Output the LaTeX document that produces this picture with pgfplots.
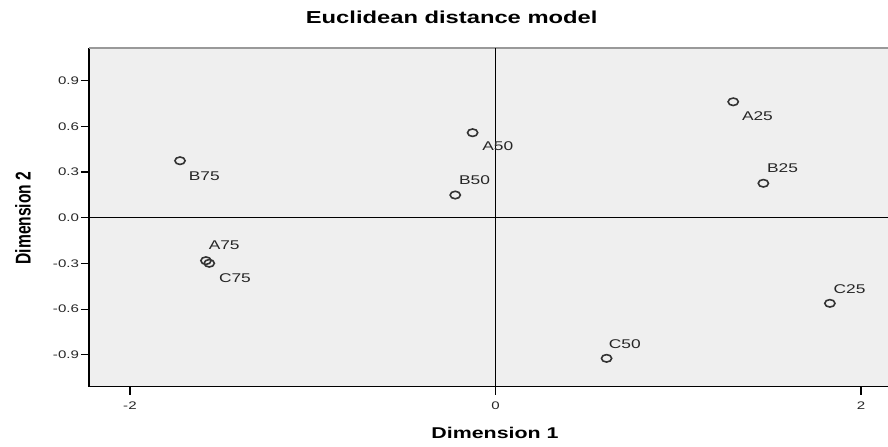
\documentclass[border=0pt]{standalone}
\usepackage{graphicx}
\usepackage{pgfplots}
\pgfplotsset{compat=1.18}
\usepackage{pgfplotstable}
\usepackage{fontspec}
\setmainfont{Liberation Sans}

% the chart is stretched sideways, so text is widened to match
\newcommand{\sx}[1]{\scalebox{1.37}[1]{#1}}

\definecolor{plotbg}{HTML}{EFEFEF}
\definecolor{markc}{HTML}{333333}

% x y name; dx dy = label offset in px
\pgfplotstableread{
x      y      name dx   dy
-1.726  0.374 B75  8   -15
-1.584 -0.282 A75  2    15
-1.566 -0.299 C75  9   -14.5
-0.125  0.558 A50  9   -13.3
-0.220  0.149 B50  3    15
 1.301  0.761 A25  8   -14.3
 1.466  0.226 B25  3    15.3
 0.608 -0.923 C50  1.5  14
 1.830 -0.562 C25  3    14
}\points

\begin{document}
\begin{tikzpicture}
\path[use as bounding box] (-66.75pt,-44.5pt) rectangle (599.25pt,290pt);
\begin{axis}[
  scale only axis,
  width=599.25pt, height=254pt,
  xmin=-2.224, xmax=2.148,
  ymin=-1.109, ymax=1.114,
  axis x line*=bottom, axis y line*=left,
  axis line style={-, line width=1pt, black},
  axis background/.style={fill=plotbg},
  xtick={-2,0,2},
  ytick={-0.9,-0.6,-0.3,0,0.3,0.6,0.9},
  tick align=outside,
  major tick length=6pt,
  tick style={line width=0.9pt, black},
  /pgf/number format/assume math mode=true,
  xticklabel={\sx{\pgfmathprintnumber{\tick}}},
  yticklabel={\sx{\pgfmathprintnumber[fixed,zerofill,precision=1]{\tick}}},
  ticklabel style={font=\fontsize{8.25}{10}\selectfont, text=black!85},
  xticklabel style={yshift=-2pt},
  yticklabel style={xshift=2pt},
  clip=false,
]
\draw[black!40, line width=1pt] (rel axis cs:0,1) -- (rel axis cs:1,1);
\draw[black, line width=0.9pt] (axis cs:0,-1.109) -- (axis cs:0,1.114);
\draw[black, line width=0.9pt] (axis cs:-2.224,0) -- (axis cs:2.148,0);
\addplot[
  only marks,
  mark=o,
  mark size=2.8pt,
  mark options={xscale=1.37, line width=1.2pt, draw=markc},
  point meta=explicit symbolic,
  visualization depends on={\thisrow{dx} \as \dx},
  visualization depends on={\thisrow{dy} \as \dy},
  nodes near coords={\sx{\pgfplotspointmeta}},
  every node near coord/.append style={
    anchor=west, inner sep=0pt,
    xshift=0.75*\dx pt, yshift=0.75*\dy pt,
    font=\fontsize{9.5}{11}\selectfont, text=black!85},
] table[x=x, y=y, meta=name] {\points};
\end{axis}
\node[font=\bfseries\fontsize{13}{15}\selectfont] at (272pt,276.9pt) {\sx{Euclidean distance model}};
\node[font=\bfseries\fontsize{11.7}{14}\selectfont] at (304.5pt,-35pt) {\sx{Dimension 1}};
\node[font=\bfseries\fontsize{11.7}{14}\selectfont, rotate=90] at (-49.5pt,126.5pt) {\scalebox{1}[1.37]{Dimension 2}};
\end{tikzpicture}
\end{document}
